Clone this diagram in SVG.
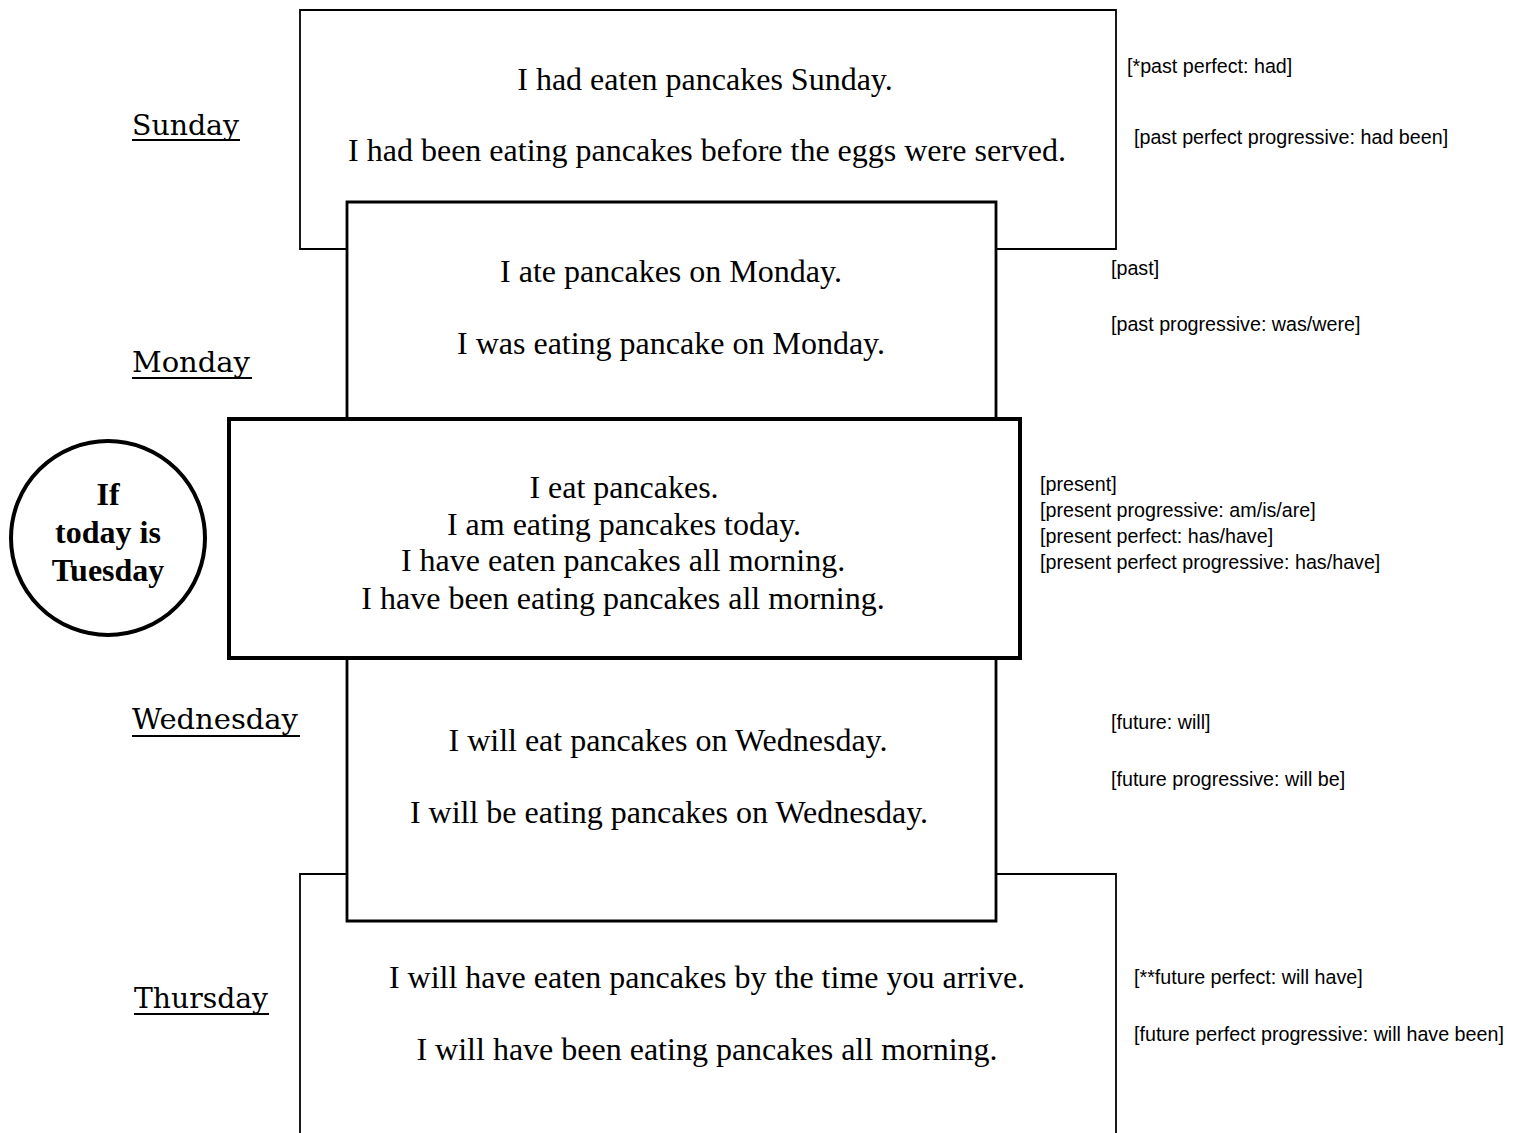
<svg xmlns="http://www.w3.org/2000/svg" width="1521" height="1133" viewBox="0 0 1521 1133">
<style>
.s{font-family:"Liberation Serif","Times New Roman",serif;font-size:32px;fill:#000;text-anchor:middle}
.d{font-family:"DejaVu Serif","Liberation Serif",serif;font-size:28px;fill:#000}
.r{font-family:"Liberation Sans",Arial,sans-serif;font-size:19.7px;fill:#000}
.b{font-family:"Liberation Serif","Times New Roman",serif;font-size:32px;font-weight:bold;fill:#000;text-anchor:middle}
.u{stroke:#000;stroke-width:2}
</style>
<rect width="1521" height="1133" fill="#fff"/>
<g id="sunday">
<path d="M347 249 H300 V10 H1116 V249 H997" fill="none" stroke="#000" stroke-width="1.8"/>
<text class="s" x="705" y="90">I had eaten pancakes Sunday.</text>
<text class="s" x="707" y="161">I had been eating pancakes before the eggs were served.</text>
</g>
<g id="thursday">
<path d="M347 874 H300 V1140 M1116 1140 V874 H997" fill="none" stroke="#000" stroke-width="1.8"/>
<text class="s" x="707" y="988">I will have eaten pancakes by the time you arrive.</text>
<text class="s" x="707" y="1060">I will have been eating pancakes all morning.</text>
</g>
<g id="monday">
<path d="M347 418 V202 H996 V418" fill="#fff" stroke="#000" stroke-width="2.8"/>
<text class="s" x="671" y="282">I ate pancakes on Monday.</text>
<text class="s" x="671" y="354">I was eating pancake on Monday.</text>
</g>
<g id="wednesday">
<path d="M347 658 V921 H996 V658" fill="#fff" stroke="#000" stroke-width="2.8"/>
<text class="s" x="668" y="751">I will eat pancakes on Wednesday.</text>
<text class="s" x="669" y="823">I will be eating pancakes on Wednesday.</text>
</g>
<g id="tuesday">
<rect x="229" y="419" width="791" height="239" fill="#fff" stroke="#000" stroke-width="4"/>
<text class="s" x="624" y="498">I eat pancakes.</text>
<text class="s" x="624" y="535">I am eating pancakes today.</text>
<text class="s" x="623" y="571">I have eaten pancakes all morning.</text>
<text class="s" x="623" y="609">I have been eating pancakes all morning.</text>
</g>
<g id="today">
<circle cx="108" cy="538" r="97" fill="#fff" stroke="#000" stroke-width="4"/>
<text class="b" x="108" y="505">If</text>
<text class="b" x="108" y="543">today is</text>
<text class="b" x="108" y="581">Tuesday</text>
</g>
<g id="days">
<text class="d" x="132" y="135" textLength="107" lengthAdjust="spacingAndGlyphs">Sunday</text><line class="u" x1="132" y1="140" x2="240" y2="140"/>
<text class="d" x="132" y="372" textLength="118" lengthAdjust="spacingAndGlyphs">Monday</text><line class="u" x1="132" y1="378" x2="252" y2="378"/>
<text class="d" x="132" y="729" textLength="166" lengthAdjust="spacingAndGlyphs">Wednesday</text><line class="u" x1="132" y1="736" x2="300" y2="736"/>
<text class="d" x="134" y="1008" textLength="134" lengthAdjust="spacingAndGlyphs">Thursday</text><line class="u" x1="134" y1="1014" x2="269" y2="1014"/>
</g>
<g id="notes">
<text class="r" x="1127" y="73">[*past perfect: had]</text>
<text class="r" x="1134" y="144">[past perfect progressive: had been]</text>
<text class="r" x="1111" y="275">[past]</text>
<text class="r" x="1111" y="331">[past progressive: was/were]</text>
<text class="r" x="1040" y="491">[present]</text>
<text class="r" x="1040" y="517">[present progressive: am/is/are]</text>
<text class="r" x="1040" y="543">[present perfect: has/have]</text>
<text class="r" x="1040" y="569">[present perfect progressive: has/have]</text>
<text class="r" x="1111" y="729">[future: will]</text>
<text class="r" x="1111" y="786">[future progressive: will be]</text>
<text class="r" x="1134" y="984">[**future perfect: will have]</text>
<text class="r" x="1134" y="1041">[future perfect progressive: will have been]</text>
</g>
<g id="connectors"/>
</svg>
